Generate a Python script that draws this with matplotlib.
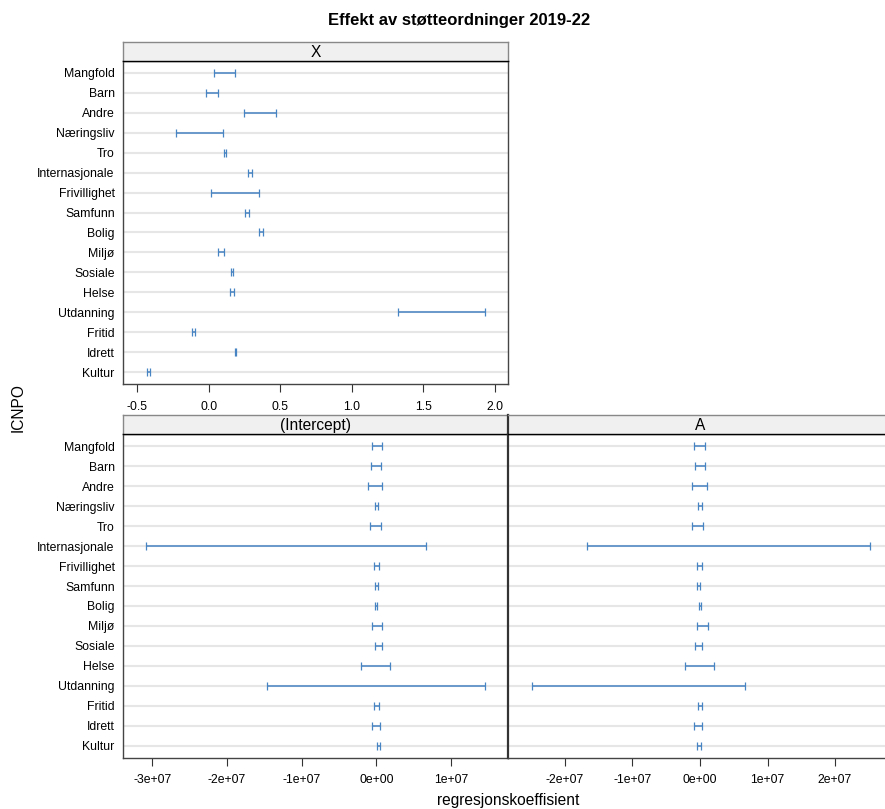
import numpy as np
import matplotlib
matplotlib.use("Agg")
import matplotlib.pyplot as plt

plt.rcParams['font.family'] = ['Liberation Sans', 'DejaVu Sans']

# categories, listed from bottom (y=0) to top
categories = ['Kultur', 'Idrett', 'Fritid', 'Utdanning', 'Helse', 'Sosiale', 'Miljø',
              'Bolig', 'Samfunn', 'Frivillighet', 'Internasjonale', 'Tro',
              'Næringsliv', 'Andre', 'Barn', 'Mangfold']

# panel "X": lower / upper ends of the intervals
x_lo = [-0.434, 0.184, -0.115, 1.324, 0.149, 0.154, 0.067,
        0.354, 0.252, 0.014, 0.273, 0.105,
        -0.229, 0.249, -0.021, 0.039]
x_hi = [-0.410, 0.193, -0.096, 1.930, 0.177, 0.172, 0.109,
        0.382, 0.284, 0.352, 0.305, 0.121,
        0.100, 0.473, 0.063, 0.184]

# panel "(Intercept)"
int_lo = [0.005e7, -0.062e7, -0.027e7, -1.463e7, -0.209e7, -0.017e7, -0.062e7,
          -0.021e7, -0.017e7, -0.031e7, -3.083e7, -0.080e7,
          -0.021e7, -0.107e7, -0.071e7, -0.054e7]
int_hi = [0.050e7, 0.050e7, 0.032e7, 1.451e7, 0.179e7, 0.080e7, 0.072e7,
          0.005e7, 0.019e7, 0.040e7, 0.665e7, 0.063e7,
          0.019e7, 0.072e7, 0.063e7, 0.080e7]

# panel "A"
a_lo = [-0.040e7, -0.094e7, -0.030e7, -2.494e7, -0.217e7, -0.069e7, -0.040e7,
        -0.015e7, -0.040e7, -0.040e7, -1.674e7, -0.123e7,
        -0.035e7, -0.114e7, -0.069e7, -0.084e7]
a_hi = [0.015e7, 0.030e7, 0.030e7, 0.662e7, 0.212e7, 0.030e7, 0.114e7,
        0.015e7, 0.005e7, 0.035e7, 2.519e7, 0.049e7,
        0.025e7, 0.109e7, 0.069e7, 0.069e7]

x_ticks = [-0.5, 0.0, 0.5, 1.0, 1.5, 2.0]
int_ticks = [-3e7, -2e7, -1e7, 0, 1e7]
a_ticks = [-2e7, -1e7, 0, 1e7, 2e7]

W, H = 885, 809
fig = plt.figure(figsize=(W / 100, H / 100), dpi=100)

bar_col = '#4784c3'
edge_col = '#444444'


def px_axes(x0, y0, x1, y1):
    # pixel box (top-left origin) -> figure axes
    return fig.add_axes([x0 / W, 1 - y1 / H, (x1 - x0) / W, (y1 - y0) / H])


def panel(box, strip_top, title, lo, hi, xlim, ticks, fmt, ylabels):
    x0, y0, x1, y1 = box
    ax = px_axes(x0, y0, x1, y1)
    ypos = np.arange(len(categories))
    for y in ypos:
        ax.axhline(y, color='#e6e6e6', lw=1.5, zorder=0)
    lo = np.array(lo)
    hi = np.array(hi)
    ax.errorbar((lo + hi) / 2, ypos, xerr=(hi - lo) / 2, fmt='none',
                ecolor=bar_col, elinewidth=1.1, capsize=2.6, capthick=0.9)
    ax.set_xlim(xlim)
    ax.set_ylim(-0.6, len(categories) - 0.4)
    ax.set_xticks(ticks)
    ax.set_xticklabels([fmt(t) for t in ticks])
    ax.tick_params(axis='x', length=6, width=0.8, color='#333333', pad=6,
                   labelsize=8.8)
    ax.set_yticks(ypos)
    if ylabels:
        ax.set_yticklabels(categories)
    else:
        ax.set_yticklabels([])
    ax.tick_params(axis='y', length=0, pad=6, labelsize=8.8)
    for s in ax.spines.values():
        s.set_color(edge_col)
        s.set_linewidth(1.0)
    # strip on top
    sax = px_axes(x0, strip_top, x1, y0)
    sax.set_facecolor('#f0f0f0')
    sax.set_xticks([])
    sax.set_yticks([])
    for s in sax.spines.values():
        s.set_color('#888888')
        s.set_linewidth(1.0)
    sax.spines['bottom'].set_color('black')
    sax.text(0.5, 0.45, title, ha='center', va='center', fontsize=11.2,
             transform=sax.transAxes)
    return ax, sax


def sci(t):
    return '{:.0e}'.format(t)


panel((123, 61, 508.3, 384), 42.3, 'X', x_lo, x_hi, (-0.599, 2.095),
      x_ticks, lambda t: '{:.1f}'.format(t), True)
panel((123, 434.3, 508, 757.7), 415, '(Intercept)', int_lo, int_hi,
      (-3.39e7, 1.763e7), int_ticks, sci, True)
ax_a, strip_a = panel((508, 434.3, 893, 757.7), 415, 'A', a_lo, a_hi,
                      (-2.844e7, 2.859e7), a_ticks, sci, False)
# darker divider between the two bottom panels
ax_a.spines['left'].set_linewidth(1.6)
ax_a.spines['left'].set_color('#333333')
strip_a.spines['left'].set_linewidth(1.6)
strip_a.spines['left'].set_color('#333333')

fig.text(459 / W, 1 - 20 / H, 'Effekt av støtteordninger 2019-22',
         ha='center', va='center', fontsize=12, fontweight='bold')
fig.text(18 / W, 1 - 408 / H, 'ICNPO', ha='center', va='center',
         rotation=90, fontsize=11.2)
fig.text(508 / W, 1 - 801 / H, 'regresjonskoeffisient', ha='center',
         va='center', fontsize=11.2)

fig.savefig('out.png', dpi=100)
